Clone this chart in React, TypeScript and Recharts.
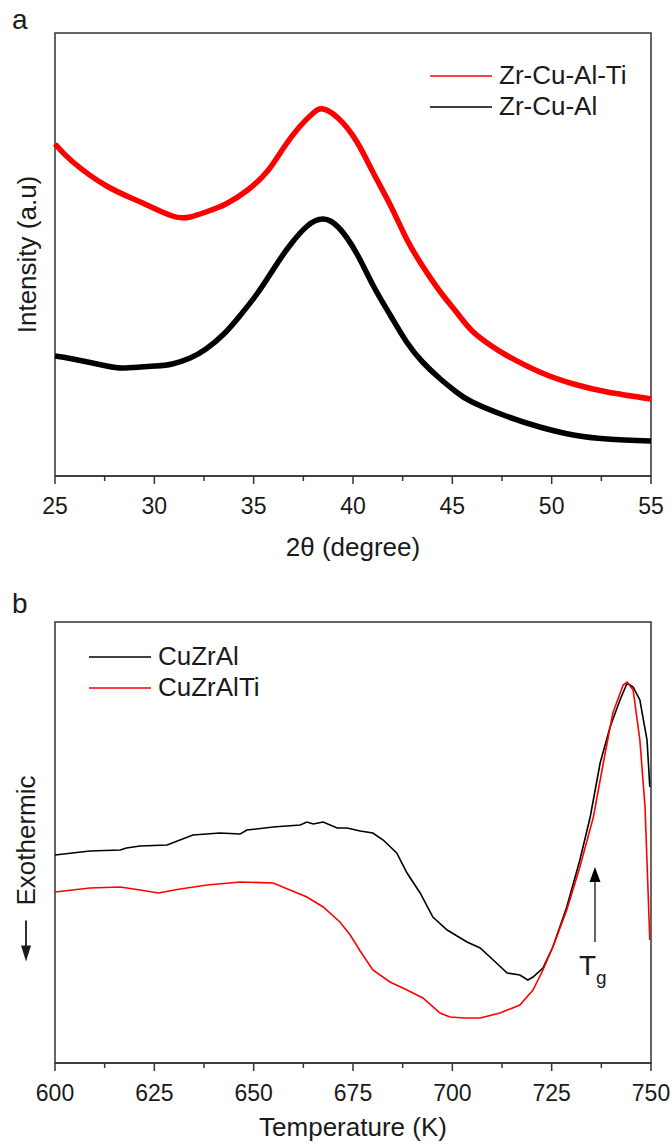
import React from "react";
import { LineChart, Line, XAxis, YAxis, Legend, ReferenceArea, ReferenceLine, ReferenceDot } from "recharts";

// panel a: XRD patterns (intensity in arbitrary units)
const tiTheta = [25, 25.9, 27.6, 29.3, 30.9, 31.8, 32.6, 33.6, 34.7, 35.7, 36.5, 37.3, 38.0, 38.5, 39.3, 40.2, 41.0, 41.9, 42.7, 43.5, 44.4, 45.2, 46.0, 46.9, 47.7, 49.4, 51.1, 52.8, 55];
const tiIntensity = [332, 314, 290, 274, 260, 259, 264, 272, 286, 305, 328, 349, 363, 367, 357, 334, 304, 270, 237, 210, 184, 164, 145, 131, 121, 104, 92, 84, 77];
const alTheta = [25, 25.9, 27.6, 28.4, 29.3, 30.1, 30.9, 31.8, 32.6, 33.5, 34.3, 35.2, 36.0, 36.8, 37.7, 38.5, 39.3, 40.2, 41.0, 41.9, 42.7, 43.5, 44.4, 45.2, 46.0, 47.7, 49.4, 51.1, 52.8, 55];
const alIntensity = [120, 117, 110, 108, 109, 110, 112, 118, 127, 142, 160, 183, 207, 230, 250, 257, 248, 222, 191, 160, 134, 114, 97, 84, 74, 60, 49, 41, 37, 35];
const thetaTicks = [25, 27.5, 30, 32.5, 35, 37.5, 40, 42.5, 45, 47.5, 50, 52.5, 55];
const thetaLabels = [25, 30, 35, 40, 45, 50, 55];

// panel b: DSC traces (heat flow in arbitrary units)
const alTemp = [600, 608.8, 616.4, 618, 621.4, 628.2, 634.7, 641.5, 646.6, 648.3, 654.9, 661.7, 663.4, 665, 667.5, 671, 673.5, 676.8, 680, 682.6, 686, 688.6, 691.9, 695.1, 698.7, 703.7, 707, 710.3, 713.8, 717, 719, 720.3, 722.8, 725.3, 728.8, 732.1, 734.7, 737.2, 739.7, 742.2, 744, 745.5, 747.2, 749, 749.7];
const alFlow = [208, 212, 213, 215, 217, 218, 228, 230, 229, 233, 236, 238, 241, 239, 241, 235, 235, 232, 230, 223, 210, 190, 170, 146, 133, 121, 115, 103, 90, 88, 83, 86, 95, 116, 156, 203, 246, 300, 336, 363, 380, 376, 363, 323, 276];
const tiTemp = [600, 608.8, 616.4, 621.4, 626, 631.5, 638.3, 646.6, 654.9, 663.4, 667.5, 671.7, 674.3, 676.8, 680, 684.3, 688.6, 692.6, 696.9, 699.4, 703, 707, 712, 717, 720.3, 722.8, 725.3, 728.8, 732.1, 735.5, 738, 740.4, 743, 744, 745.5, 747.2, 748.5, 749.7];
const tiFlow = [171, 175, 176, 173, 170, 174, 178, 181, 180, 166, 156, 141, 128, 112, 93, 81, 73, 65, 50, 46, 45, 45, 50, 58, 73, 93, 116, 153, 196, 246, 300, 350, 378, 381, 373, 323, 256, 123];
const tempTicks = [600, 612.5, 625, 637.5, 650, 662.5, 675, 687.5, 700, 712.5, 725, 737.5, 750];
const tempLabels = [600, 625, 650, 675, 700, 725, 750];

const FONT = "'Liberation Sans', Arial, sans-serif";
const INK = "#1a1a1a";
const FRAME = "#333";

const zip = (xs: number[], ys: number[]) => xs.map((x, i) => ({ x, y: ys[i] }));

const xrdTi = zip(tiTheta, tiIntensity);
const xrdAl = zip(alTheta, alIntensity);
const dscAl = zip(alTemp, alFlow);
const dscTi = zip(tiTemp, tiFlow);

const makeTick = (labels: number[]) => (props: any) => {
  const { x, y, payload } = props;
  const major = labels.includes(payload.value);
  return (
    <g>
      <line x1={x} x2={x} y1={y} y2={y + (major ? 8 : 5)} stroke={FRAME} strokeWidth={1.5} />
      {major && (
        <text x={x} y={y + 38} textAnchor="middle" fontSize={23} fontFamily={FONT} fill={INK}>
          {payload.value}
        </text>
      )}
    </g>
  );
};

const LegendBox = ({ items, left, top }: { items: { name: string; color: string }[]; left: number; top: number }) => (
  <div style={{ position: "absolute", left, top, fontFamily: FONT, fontSize: 26, color: INK, whiteSpace: "nowrap", width: 260 }}>
    {items.map((it) => (
      <div key={it.name} style={{ display: "flex", alignItems: "center", height: 31 }}>
        <svg width={62} height={4} style={{ marginRight: 7, flex: "none" }}>
          <line x1={0} x2={62} y1={2} y2={2} stroke={it.color} strokeWidth={1.6} />
        </svg>
        <span style={{ lineHeight: "31px" }}>{it.name}</span>
      </div>
    ))}
  </div>
);

const XTitle = (text: string, dy: number) => (props: any) => {
  const vb = props.viewBox;
  return (
    <text x={vb.x + vb.width / 2} y={vb.y + dy} textAnchor="middle" fontSize={26} fontFamily={FONT} fill={INK}>
      {text}
    </text>
  );
};

const IntensityTitle = (props: any) => {
  const vb = props.viewBox;
  const cx = 27;
  const cy = vb.y + vb.height / 2;
  return (
    <text x={cx} y={cy} transform={`rotate(-90 ${cx} ${cy})`} textAnchor="middle" dominantBaseline="central" fontSize={26} fontFamily={FONT} fill={INK}>
      Intensity (a.u)
    </text>
  );
};

const ExoTitle = (props: any) => {
  const vb = props.viewBox;
  const cx = 26;
  const cy = vb.y + vb.height / 2 - 2;
  return (
    <g>
      <text x={cx} y={cy} transform={`rotate(-90 ${cx} ${cy})`} textAnchor="middle" dominantBaseline="central" fontSize={26} fontFamily={FONT} fill={INK}>
        Exothermic
      </text>
      <line x1={cx} x2={cx} y1={cy + 80} y2={cy + 110} stroke={INK} strokeWidth={1.8} />
      <polygon points={`${cx - 5},${cy + 105} ${cx + 5},${cy + 105} ${cx},${cy + 121}`} fill={INK} />
    </g>
  );
};

const PanelLetter = ({ letter, top }: { letter: string; top: number }) => (
  <div style={{ position: "absolute", left: 12, top, fontFamily: FONT, fontSize: 28, color: INK, lineHeight: "28px" }}>{letter}</div>
);

export default function App() {
  return (
    <div style={{ position: "absolute", left: 0, top: 0, width: 672, height: 1148, background: "#fff" }}>
      <PanelLetter letter="a" top={6} />
      <div style={{ position: "absolute", left: 0, top: 0 }}>
        <LineChart width={672} height={590} margin={{ top: 33, right: 21, bottom: 0, left: 0 }}>
          <XAxis
            dataKey="x"
            type="number"
            domain={[25, 55]}
            ticks={thetaTicks}
            interval={0}
            tickSize={0}
            tickMargin={0}
            tickLine={false}
            height={114}
            axisLine={{ stroke: FRAME, strokeWidth: 1.5 }}
            tick={makeTick(thetaLabels)}
            label={{ content: XTitle("2θ (degree)", 80) }}
          />
          <YAxis type="number" domain={[0, 443]} width={55} tick={false} tickLine={false} axisLine={false} label={{ content: IntensityTitle }} />
          <ReferenceArea x1={25} x2={55} y1={0} y2={443} fill="none" stroke={FRAME} strokeWidth={1.5} />
          <Line data={xrdTi} dataKey="y" name="Zr-Cu-Al-Ti" type="natural" stroke="#ff0000" strokeWidth={5.5} dot={false} isAnimationActive={false} />
          <Line data={xrdAl} dataKey="y" name="Zr-Cu-Al" type="natural" stroke="#000000" strokeWidth={5.5} dot={false} isAnimationActive={false} />
          <Legend
            wrapperStyle={{ position: "absolute", left: 0, top: 0, width: 0, height: 0 }}
            content={() => (
              <LegendBox left={430} top={60} items={[{ name: "Zr-Cu-Al-Ti", color: "#ff0000" }, { name: "Zr-Cu-Al", color: "#000000" }]} />
            )}
          />
        </LineChart>
      </div>
      <PanelLetter letter="b" top={590} />
      <div style={{ position: "absolute", left: 0, top: 590 }}>
        <LineChart width={672} height={558} margin={{ top: 32, right: 21, bottom: 0, left: 0 }}>
          <XAxis
            dataKey="x"
            type="number"
            domain={[600, 750]}
            ticks={tempTicks}
            interval={0}
            tickSize={0}
            tickMargin={0}
            tickLine={false}
            height={85}
            axisLine={{ stroke: FRAME, strokeWidth: 1.5 }}
            tick={makeTick(tempLabels)}
            label={{ content: XTitle("Temperature (K)", 73) }}
          />
          <YAxis type="number" domain={[0, 441]} width={55} tick={false} tickLine={false} axisLine={false} label={{ content: ExoTitle }} />
          <ReferenceArea x1={600} x2={750} y1={0} y2={441} fill="none" stroke={FRAME} strokeWidth={1.5} />
          <ReferenceLine segment={[{ x: 735.9, y: 121 }, { x: 735.9, y: 186 }]} stroke="#333" strokeWidth={1.5} />
          <ReferenceDot
            x={735.9}
            y={196}
            r={0}
            shape={(p: any) => <polygon points={`${p.cx},${p.cy} ${p.cx - 5.5},${p.cy + 15} ${p.cx + 5.5},${p.cy + 15}`} fill="#000" />}
          />
          <ReferenceDot
            x={735.9}
            y={88}
            r={0}
            shape={(p: any) => (
              <text x={p.cx - 16} y={p.cy} fontFamily={FONT} fontSize={28} fill={INK}>
                T
                <tspan fontSize={19} dy={9}>g</tspan>
              </text>
            )}
          />
          <Line data={dscAl} dataKey="y" name="CuZrAl" type="linear" stroke="#000000" strokeWidth={1.6} dot={false} isAnimationActive={false} />
          <Line data={dscTi} dataKey="y" name="CuZrAlTi" type="linear" stroke="#ff0000" strokeWidth={1.6} dot={false} isAnimationActive={false} />
          <Legend
            wrapperStyle={{ position: "absolute", left: 0, top: 0, width: 0, height: 0 }}
            content={() => (
              <LegendBox left={89} top={51} items={[{ name: "CuZrAl", color: "#000000" }, { name: "CuZrAlTi", color: "#ff0000" }]} />
            )}
          />
        </LineChart>
      </div>
    </div>
  );
}
